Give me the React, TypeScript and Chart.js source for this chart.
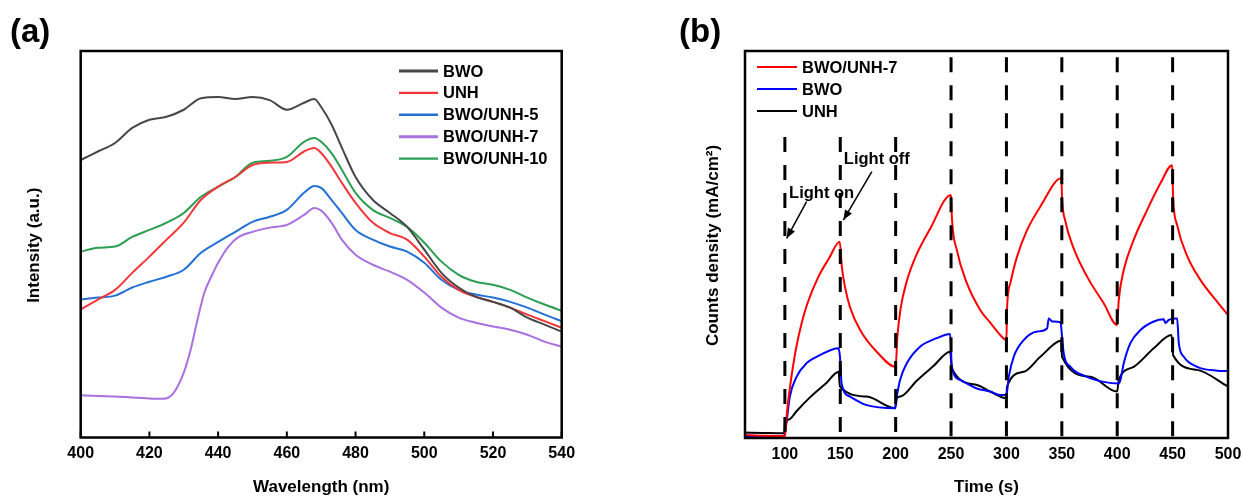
import React, { useEffect, useRef } from "react";
import { Chart, registerables } from "chart.js";

Chart.register(...registerables);

const FONT = "'Liberation Sans', Arial, Helvetica, sans-serif";

// ---------- Panel (a): PL spectra ----------
const wavelengthTicks = [400, 420, 440, 460, 480, 500, 520, 540];
const wavelength = [400, 405, 410, 415, 420, 425, 430, 435, 440, 445, 450, 455, 460, 465, 468, 470, 473, 476, 480, 485, 490, 495, 500, 505, 510, 515, 520, 525, 530, 535, 540];
const plBWO = [71.8, 74.0, 76.2, 80.1, 82.2, 83.0, 84.8, 87.8, 88.1, 87.6, 88.1, 87.3, 84.8, 86.6, 87.6, 85.5, 81.0, 75.0, 67.4, 61.5, 58.1, 54.5, 48.6, 42.6, 38.8, 36.4, 35.1, 33.6, 31.0, 29.2, 27.4];
const plUNH = [33.1, 35.7, 38.2, 42.6, 46.8, 51.2, 55.6, 61.5, 64.9, 67.4, 70.5, 71.1, 71.3, 74.0, 74.9, 73.6, 70.1, 65.9, 60.7, 55.6, 52.9, 51.2, 46.8, 41.6, 38.2, 36.4, 35.1, 33.6, 31.8, 30.1, 28.4];
const plBWOUNH5 = [35.7, 36.2, 36.7, 38.8, 40.3, 41.6, 43.4, 47.8, 50.6, 53.2, 55.8, 57.1, 58.9, 63.3, 65.1, 64.6, 61.5, 58.1, 53.7, 51.2, 49.4, 48.1, 45.2, 40.8, 38.2, 37.0, 36.2, 35.1, 33.6, 31.8, 30.1];
const wavelength7 = [400, 410, 420, 424, 427, 430, 432, 434, 436, 438, 440, 443, 446, 450, 455, 460, 465, 468, 470, 473, 476, 480, 485, 490, 495, 500, 505, 510, 515, 520, 525, 530, 535, 540];
const plBWOUNH7 = [10.9, 10.6, 10.1, 10.0, 11.5, 16.8, 22.7, 30.5, 37.5, 41.6, 45.2, 49.4, 51.9, 53.2, 54.3, 55.0, 57.6, 59.4, 58.7, 55.6, 51.2, 47.3, 44.7, 42.9, 40.8, 37.5, 33.6, 31.0, 29.7, 28.7, 27.9, 26.6, 24.8, 23.5];
const plBWOUNH10 = [48.1, 49.1, 49.4, 51.9, 53.7, 55.6, 58.1, 62.3, 64.9, 67.4, 71.1, 71.6, 72.6, 76.5, 77.5, 76.5, 73.6, 69.3, 63.3, 58.9, 56.8, 54.5, 50.4, 45.5, 42.1, 40.3, 39.5, 38.2, 36.2, 34.4, 32.8];

// ---------- Panel (b): transient photocurrent ----------
const timeTicks = [100, 150, 200, 250, 300, 350, 400, 450, 500];
const lightSwitchTimes = [100, 150, 200, 250, 300, 350, 400, 450];
const timeRed = [64, 80, 99, 100, 102, 105, 110, 115, 120, 130, 140, 149.5, 151.5, 154.3, 158.8, 167.8, 182.9, 200, 201.5, 204.5, 210, 219, 231, 250, 250.7, 255.2, 264.3, 276.3, 285.4, 294.4, 300, 300.5, 303.5, 309.5, 318.6, 330.6, 349.6, 350.2, 353.2, 360.7, 372.8, 387.8, 399.9, 401.4, 405.9, 414.9, 427, 439, 449.6, 450.5, 454.1, 463.2, 475.2, 490.3, 500];
const currentRed = [0.8, 0.6, 0.5, 0.3, 7, 14, 23, 29.5, 34.5, 41.5, 46.5, 50.7, 44, 39, 33.8, 28, 22.3, 18.4, 26, 33.5, 40.5, 47.5, 54, 62.8, 57.2, 48.6, 40, 33.1, 29.8, 26.6, 25.3, 33.1, 40, 46.8, 53.7, 59.8, 67.1, 62, 56, 49, 41.7, 34.8, 29.2, 35.7, 43.4, 51.2, 58.9, 65.8, 70.5, 62, 55, 47, 40.8, 35.2, 31.8];
const timeBlue = [64, 80, 99, 100.9, 104.5, 110.5, 119.5, 131.6, 148.5, 149.7, 151.2, 158.8, 173.9, 199.5, 201, 204, 210, 222, 237.1, 249.2, 250.7, 258.2, 273.3, 285.4, 294.4, 300, 302.1, 306.6, 315.6, 327.7, 336.7, 338.2, 341.3, 348.8, 350.2, 351.7, 357.8, 372.8, 387.8, 401.4, 402.9, 405.9, 411.9, 421, 433, 442, 443.5, 446.5, 452.5, 454.1, 455.6, 460.1, 472.2, 490.3, 500];
const currentBlue = [0.3, 0.3, 0.4, 2.9, 10.7, 15.8, 19.3, 21.4, 23.2, 21, 14.1, 10.7, 8.5, 7.7, 10.7, 15, 19.3, 23.6, 25.8, 26.9, 18.4, 15, 12.8, 12, 11.1, 11.1, 15.8, 21, 25.3, 27.5, 28.3, 30.9, 30.1, 29.9, 26.2, 21.9, 18.4, 15.8, 14.5, 14.1, 15, 19.3, 24.5, 27.9, 30.1, 30.7, 29.7, 30.5, 30.9, 30.9, 24.5, 21, 18.4, 17.4, 17.3];
const timeBlack = [64, 80, 99.5, 100, 104.5, 110.5, 122.6, 137.7, 148.5, 149.7, 173.9, 199.5, 201, 205, 219, 234.1, 249.2, 250.7, 273.3, 285.4, 300, 300.5, 315.6, 330.6, 349.6, 350.2, 375.8, 399.9, 401.4, 414.9, 433, 449, 450.5, 472.2, 500];
const currentBlack = [1.4, 1.3, 1.2, 3.4, 4.9, 6.9, 10.5, 14.3, 17.1, 13.3, 10.7, 7.7, 10.3, 10.8, 14.8, 18.6, 22.3, 18, 13.7, 12, 10.3, 13.3, 17.1, 21, 25.1, 21, 15.8, 12, 15, 18.4, 23.2, 26.6, 21.4, 17.6, 13.3];

const toXY = (xs: number[], ys: number[]) => xs.map((x, i) => ({ x, y: ys[i] }));

type Panel = {
  label: string;
  labelX: number;
  xTitle: string;
  yTitle: string;
  yTitleX: number;
  legendLineX0: number;
  legendLineX1: number;
  legendTextX: number;
  legendY0: number;
  legendDy: number;
  innerTicks: boolean;
  extra?: (chart: any) => void;
};

function makePlugin(p: Panel) {
  return {
    id: "decor",
    afterDraw(chart: any) {
      const ctx = chart.ctx as CanvasRenderingContext2D;
      const a = chart.chartArea;
      ctx.save();
      ctx.strokeStyle = "#000";
      ctx.lineWidth = 2.5;
      ctx.setLineDash([]);
      ctx.strokeRect(a.left, a.top, a.right - a.left, a.bottom - a.top);
      if (p.innerTicks) {
        const xs = chart.scales.x;
        ctx.lineWidth = 2;
        xs.ticks.forEach((t: any) => {
          const px = xs.getPixelForValue(t.value);
          ctx.beginPath();
          ctx.moveTo(px, a.bottom);
          ctx.lineTo(px, a.bottom - 6);
          ctx.stroke();
        });
      }
      ctx.fillStyle = "#000";
      ctx.font = `bold 33px ${FONT}`;
      ctx.textAlign = "left";
      ctx.textBaseline = "alphabetic";
      ctx.fillText(p.label, p.labelX, 42);
      ctx.font = `bold 17px ${FONT}`;
      ctx.textAlign = "center";
      ctx.textBaseline = "middle";
      ctx.fillText(p.xTitle, (a.left + a.right) / 2, 487);
      ctx.save();
      ctx.translate(p.yTitleX, (a.top + a.bottom) / 2 + 1);
      ctx.rotate(-Math.PI / 2);
      ctx.fillText(p.yTitle, 0, 0);
      ctx.restore();
      ctx.font = `bold 16.5px ${FONT}`;
      ctx.textAlign = "left";
      chart.data.datasets.forEach((ds: any, i: number) => {
        const y = p.legendY0 + i * p.legendDy;
        ctx.strokeStyle = ds.borderColor;
        ctx.lineWidth = ds.legendWidth || ds.borderWidth;
        ctx.beginPath();
        ctx.moveTo(p.legendLineX0, y);
        ctx.lineTo(p.legendLineX1, y);
        ctx.stroke();
        ctx.fillStyle = "#000";
        ctx.fillText(ds.label, p.legendTextX, y + 1);
      });
      if (p.extra) p.extra(chart);
      ctx.restore();
    },
  };
}

function arrow(ctx: CanvasRenderingContext2D, x0: number, y0: number, x1: number, y1: number) {
  ctx.strokeStyle = "#000";
  ctx.fillStyle = "#000";
  ctx.lineWidth = 1.5;
  ctx.setLineDash([]);
  ctx.beginPath();
  ctx.moveTo(x0, y0);
  ctx.lineTo(x1, y1);
  ctx.stroke();
  const ang = Math.atan2(y1 - y0, x1 - x0);
  const len = 10;
  const w = 4;
  ctx.beginPath();
  ctx.moveTo(x1, y1);
  ctx.lineTo(x1 - len * Math.cos(ang) + w * Math.sin(ang), y1 - len * Math.sin(ang) - w * Math.cos(ang));
  ctx.lineTo(x1 - len * Math.cos(ang) - w * Math.sin(ang), y1 - len * Math.sin(ang) + w * Math.cos(ang));
  ctx.closePath();
  ctx.fill();
}

const tickFont = { family: FONT, size: 16, weight: "bold" as const };

function configA(): any {
  return {
    type: "line",
    data: {
      datasets: [
        { label: "BWO", data: toXY(wavelength, plBWO), borderColor: "#474747", borderWidth: 2, legendWidth: 3.2 },
        { label: "UNH", data: toXY(wavelength, plUNH), borderColor: "#f0383a", borderWidth: 2, legendWidth: 2.4 },
        { label: "BWO/UNH-5", data: toXY(wavelength, plBWOUNH5), borderColor: "#2471d6", borderWidth: 2, legendWidth: 2.4 },
        { label: "BWO/UNH-7", data: toXY(wavelength7, plBWOUNH7), borderColor: "#a970df", borderWidth: 2, legendWidth: 3 },
        { label: "BWO/UNH-10", data: toXY(wavelength, plBWOUNH10), borderColor: "#2b9e52", borderWidth: 2, legendWidth: 2.4 },
      ],
    },
    options: {
      animation: false,
      responsive: false,
      events: [],
      layout: { padding: { left: 80.7, right: 58.3, top: 51, bottom: 0 } },
      elements: { point: { radius: 0 }, line: { cubicInterpolationMode: "monotone", fill: false } },
      plugins: { legend: { display: false }, tooltip: { enabled: false } },
      scales: {
        x: {
          type: "linear",
          min: 400,
          max: 540,
          afterBuildTicks: (s: any) => { s.ticks = wavelengthTicks.map((v) => ({ value: v })); },
          afterFit: (s: any) => { s.height = 65.5; },
          grid: { display: false, drawTicks: false },
          border: { display: false },
          ticks: { font: tickFont, color: "#000", padding: 6, maxRotation: 0, autoSkip: false },
        },
        y: { display: false, min: 0, max: 100 },
      },
    },
    plugins: [
      makePlugin({
        label: "(a)", labelX: 10, xTitle: "Wavelength (nm)", yTitle: "Intensity (a.u.)", yTitleX: 34,
        legendLineX0: 399, legendLineX1: 438, legendTextX: 443, legendY0: 71, legendDy: 21.9, innerTicks: true,
      }),
    ],
  };
}

function configB(): any {
  return {
    type: "line",
    data: {
      datasets: [
        { label: "BWO/UNH-7", data: toXY(timeRed, currentRed), borderColor: "#ff0000", borderWidth: 2 },
        { label: "BWO", data: toXY(timeBlue, currentBlue), borderColor: "#0000ff", borderWidth: 2 },
        { label: "UNH", data: toXY(timeBlack, currentBlack), borderColor: "#000000", borderWidth: 2 },
      ],
    },
    options: {
      animation: false,
      responsive: false,
      events: [],
      layout: { padding: { left: 125, right: 32, top: 51, bottom: 0 } },
      elements: { point: { radius: 0 }, line: { cubicInterpolationMode: "monotone", fill: false } },
      plugins: { legend: { display: false }, tooltip: { enabled: false } },
      scales: {
        x: {
          type: "linear",
          min: 64,
          max: 500,
          afterBuildTicks: (s: any) => { s.ticks = timeTicks.map((v) => ({ value: v })); },
          afterFit: (s: any) => { s.height = 65; },
          grid: { display: false, drawTicks: false },
          border: { display: false },
          ticks: { font: tickFont, color: "#000", padding: 7, maxRotation: 0, autoSkip: false },
        },
        y: { display: false, min: 0, max: 100 },
      },
    },
    plugins: [
      {
        id: "switchLines",
        afterDatasetsDraw(chart: any) {
          const ctx = chart.ctx as CanvasRenderingContext2D;
          const xs = chart.scales.x;
          const ys = chart.scales.y;
          const a = chart.chartArea;
          ctx.save();
          ctx.strokeStyle = "#000";
          ctx.lineWidth = 3;
          ctx.setLineDash([15, 13]);
          lightSwitchTimes.forEach((t) => {
            const px = xs.getPixelForValue(t);
            const top = ys.getPixelForValue(t <= 200 ? 77.8 : 98.4);
            ctx.beginPath();
            ctx.moveTo(px, top);
            ctx.lineTo(px, a.bottom);
            ctx.stroke();
          });
          ctx.restore();
        },
      },
      makePlugin({
        label: "(b)", labelX: 59, xTitle: "Time (s)", yTitle: "Counts density (mA/cm²)", yTitleX: 93,
        legendLineX0: 137, legendLineX1: 177, legendTextX: 182, legendY0: 67, legendDy: 22, innerTicks: false,
        extra: (chart: any) => {
          const ctx = chart.ctx as CanvasRenderingContext2D;
          const xs = chart.scales.x;
          const ys = chart.scales.y;
          const X = (v: number) => xs.getPixelForValue(v);
          const Y = (v: number) => ys.getPixelForValue(v);
          ctx.font = `bold 16.5px ${FONT}`;
          ctx.textAlign = "left";
          ctx.textBaseline = "middle";
          ctx.fillStyle = "#000";
          ctx.fillText("Light on", X(103.8), Y(63.3));
          ctx.fillText("Light off", X(153.2), Y(72));
          arrow(ctx, X(119.6), Y(61.1), X(101.6), Y(51.6));
          arrow(ctx, X(178.5), Y(68.8), X(152.8), Y(56.3));
        },
      }),
    ],
  };
}

export default function App() {
  const refA = useRef<HTMLCanvasElement>(null);
  const refB = useRef<HTMLCanvasElement>(null);
  useEffect(() => {
    const a = new Chart(refA.current as HTMLCanvasElement, configA());
    const b = new Chart(refB.current as HTMLCanvasElement, configB());
    return () => {
      a.destroy();
      b.destroy();
    };
  }, []);
  return (
    <div style={{ position: "absolute", left: 0, top: 0, width: 1242, height: 503, background: "#fff", overflow: "hidden" }}>
      <canvas ref={refA} width={620} height={503} style={{ position: "absolute", left: 0, top: 0, width: 620, height: 503 }} />
      <canvas ref={refB} width={640} height={503} style={{ position: "absolute", left: 620, top: 0, width: 640, height: 503 }} />
    </div>
  );
}
